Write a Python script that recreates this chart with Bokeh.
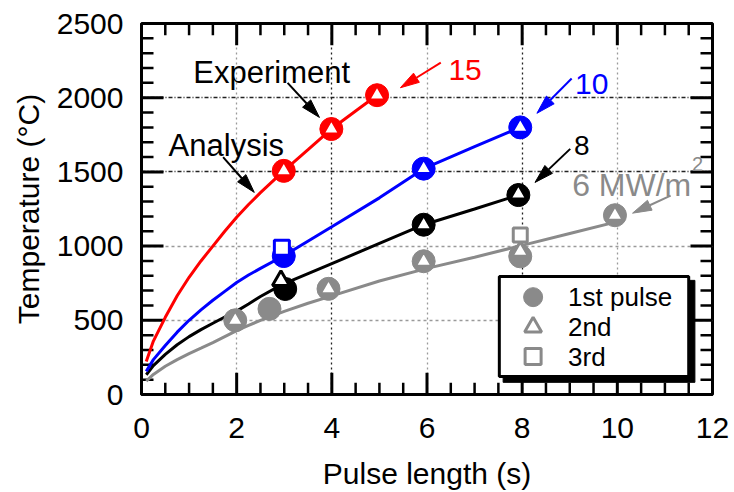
import math
from bokeh.plotting import figure
from bokeh.models import Range1d, SingleIntervalTicker, FixedTicker, Grid
from bokeh.core.properties import value
from bokeh.embed import file_html
from bokeh.resources import INLINE

FONT = "Liberation Sans"

# ---------------- data ----------------
# Analysis curves (pulse length s, temperature degC)
t_15 = [0.1, 0.25, 0.5, 0.75, 1.0, 1.25, 1.5, 1.75, 2.0, 2.25, 2.5, 2.99, 3.5, 3.99, 4.5, 4.95]
T_15 = [222, 360, 520, 665, 790, 900, 1000, 1100, 1195, 1280, 1360, 1507, 1650, 1789, 1910, 2017]
t_10 = [0.1, 0.25, 0.5, 0.75, 1.0, 1.25, 1.5, 1.75, 2.0, 2.25, 2.5, 2.99, 4.0, 5.0, 5.93, 7.0, 7.96]
T_10 = [156, 235, 330, 420, 500, 570, 635, 695, 755, 805, 850, 935, 1130, 1325, 1522, 1670, 1800]
t_8 = [0.1, 0.25, 0.5, 0.75, 1.0, 1.25, 1.5, 1.75, 2.0, 2.25, 2.5, 2.95, 4.0, 5.0, 5.93, 7.0, 7.92]
T_8 = [133, 195, 270, 335, 390, 437, 480, 522, 562, 610, 660, 740, 882, 1018, 1144, 1250, 1344]
t_6 = [0.1, 0.25, 0.5, 0.75, 1.0, 1.25, 1.5, 1.75, 2.0, 2.25, 2.5, 3.0, 3.5, 4.0, 5.0, 6.0, 7.0, 8.0, 9.0, 10.0]
T_6 = [90, 135, 190, 235, 275, 312, 350, 390, 430, 465, 500, 560, 615, 665, 765, 850, 925, 1005, 1085, 1165]

# Experiment: 1st pulse (circle), 2nd (triangle), 3rd (square)
r1_t = [2.99, 3.99, 4.95]; r1_T = [1507, 1789, 2017]
r2_t = [2.99, 3.99, 4.95]; r2_T = [1507, 1789, 2017]
b1_t = [2.99, 5.93, 7.96]; b1_T = [933, 1522, 1800]
b2_t = [5.93, 7.96]; b2_T = [1522, 1800]
b3_t = [2.95]; b3_T = [989]
k1_t = [3.02, 5.93, 7.92]; k1_T = [711, 1144, 1344]
k2_t = [2.93, 5.93, 7.92]; k2_T = [767, 1144, 1350]
g1_t = [1.97, 2.69, 3.93, 5.93, 7.96, 9.95]; g1_T = [500, 577, 712, 898, 931, 1208]
g2_t = [1.97, 3.93, 5.93, 7.96, 9.95]; g2_T = [500, 712, 898, 964, 1208]
g3_t = [7.96]; g3_T = [1075]

legend_labels = ["1st pulse", "2nd", "3rd"]
x_label = "Pulse length (s)"
y_label = "Temperature (\u00b0C)"

RED, BLUE, BLACK, GRAY = "#ff0000", "#0000ff", "#000000", "#8a8a8a"

# ---------------- figure ----------------
W, H = 734, 492
ML, MR, MT, MB = 141, 22, 23, 94
X_MAX, Y_MAX = 12.0, 2500.0
p = figure(width=W, height=H, output_backend="svg", toolbar_location=None,
           x_range=Range1d(0, X_MAX), y_range=Range1d(0, Y_MAX),
           min_border_left=ML, min_border_right=MR, min_border_top=MT, min_border_bottom=MB)
p.outline_line_color = BLACK
p.outline_line_width = 3
p.xgrid.visible = False
p.ygrid.visible = False

xt = SingleIntervalTicker(interval=2, num_minor_ticks=4)
yt = SingleIntervalTicker(interval=500, num_minor_ticks=5)


def style_axis(ax):
    ax.axis_line_width = 3
    ax.axis_line_color = BLACK
    ax.major_tick_in = 0
    ax.major_tick_out = 0
    ax.minor_tick_in = 0
    ax.minor_tick_out = 0
    ax.major_label_text_font = FONT
    ax.major_label_text_font_size = "30px"
    ax.major_label_text_color = BLACK
    ax.axis_label_text_font = FONT
    ax.axis_label_text_font_size = "30px"
    ax.axis_label_text_font_style = "normal"
    ax.axis_label_text_color = BLACK


bx = p.xaxis[0]
bx.ticker = xt
bx.axis_label = x_label
style_axis(bx)
bx.major_label_standoff = 23
bx.axis_label_standoff = 16

ly = p.yaxis[0]
ly.ticker = yt
ly.axis_label = y_label
style_axis(ly)
ly.major_label_standoff = 18
ly.axis_label_standoff = 9

# grid lines
for dim, ticks, color, dash in ((0, [2, 6, 10], "#9a9a9a", "2 3"),
                                (0, [4, 8], "#222222", "2 3"),
                                (1, [500, 1000], "#9a9a9a", "3 3"),
                                (1, [1500, 2000], "#222222", "4 2 1 2")):
    p.add_layout(Grid(dimension=dim, ticker=FixedTicker(ticks=ticks),
                      grid_line_color=color, grid_line_dash=dash, grid_line_width=1.3))

# ---------------- inward tick marks on all four frame sides ----------------
fw = W - ML - MR          # frame width in px
fh = H - MT - MB          # frame height in px
px_x = X_MAX / fw         # data units per px along x
px_y = Y_MAX / fh         # data units per px along y
MAJ, MIN = 22, 12
x_major = [2.0 * i for i in range(7)]
x_minor = [0.5 * i for i in range(25) if i % 4 != 0]
y_major = [500.0 * i for i in range(6)]
y_minor = [100.0 * i for i in range(26) if i % 5 != 0]
for ticks, ln, lw in ((x_major, MAJ, 3), (x_minor, MIN, 2.5)):
    n = len(ticks)
    p.segment(ticks, [0.0] * n, ticks, [ln * px_y] * n, line_color=BLACK, line_width=lw)
    p.segment(ticks, [Y_MAX] * n, ticks, [Y_MAX - ln * px_y] * n, line_color=BLACK, line_width=lw)
for ticks, ln, lw in ((y_major, MAJ, 3), (y_minor, MIN, 2.5)):
    n = len(ticks)
    p.segment([0.0] * n, ticks, [ln * px_x] * n, ticks, line_color=BLACK, line_width=lw)
    p.segment([X_MAX] * n, ticks, [X_MAX - ln * px_x] * n, ticks, line_color=BLACK, line_width=lw)

# analysis curves
for t, T, c in ((t_6, T_6, GRAY), (t_8, T_8, BLACK), (t_10, T_10, BLUE), (t_15, T_15, RED)):
    p.line(t, T, line_color=c, line_width=3)

# experiment points
for t, T, c in ((g1_t, g1_T, GRAY), (k1_t, k1_T, BLACK), (b1_t, b1_T, BLUE), (r1_t, r1_T, RED)):
    p.scatter(t, T, marker="circle", size=23, fill_color=c, line_color=c, line_width=1)
for t, T, c in ((g2_t, g2_T, GRAY), (k2_t, k2_T, BLACK), (b2_t, b2_T, BLUE), (r2_t, r2_T, RED)):
    p.scatter(t, T, marker="triangle", size=17, fill_color="white", line_color=c, line_width=3)
p.scatter(g3_t, g3_T, marker="square", size=14, fill_color="white", line_color=GRAY, line_width=3)
p.scatter(b3_t, b3_T, marker="square", size=15, fill_color="white", line_color=BLUE, line_width=3)

# ---------------- legend (drawn box with shadow) ----------------
LG_L, LG_R, LG_T, LG_B = 7.52, 11.5, 795, 122
SH_L, SH_R, SH_T, SH_B = 7.60, 11.63, 769, 82
p.quad(left=[SH_L], right=[SH_R], top=[SH_T], bottom=[SH_B], fill_color=BLACK, line_color=BLACK)
p.quad(left=[LG_L], right=[LG_R], top=[LG_T], bottom=[LG_B], fill_color="white",
       line_color=BLACK, line_width=3)
lg_x = 8.23
lg_rows = [656, 455, 256]
p.scatter([lg_x], [lg_rows[0]], marker="circle", size=19, fill_color=GRAY, line_color=GRAY)
p.scatter([lg_x], [lg_rows[1]], marker="triangle", size=17, fill_color="white", line_color=GRAY, line_width=3)
p.scatter([lg_x], [lg_rows[2]], marker="square", size=16, fill_color="white", line_color=GRAY, line_width=3)
p.text([8.965] * 3, lg_rows, text=legend_labels, text_font=value(FONT), text_font_size=value("26px"),
       text_color=BLACK, text_baseline="middle", text_align="left")

# ---------------- annotations ----------------
labels = [
    ("Experiment", 1.09, 2169, BLACK, "31px"),
    ("Analysis", 0.57, 1675, BLACK, "31px"),
    ("15", 6.45, 2189, RED, "30px"),
    ("10", 9.11, 2089, BLUE, "30px"),
    ("8", 9.09, 1675, BLACK, "28px"),
    ("6 MW/m", 9.05, 1409, GRAY, "32px"),
    ("2", 11.57, 1555, GRAY, "20px"),
]
for txt, x, y, c, fs in labels:
    p.text([x], [y], text=[txt], text_font=value(FONT), text_font_size=value(fs),
           text_color=c, text_baseline="alphabetic", text_align="left")

# pointer arrows: shaft as a segment, head as a filled triangle (sizes in px)
arrows = [
    (3.07, 2100, 3.74, 1867, BLACK),
    (1.715, 1600, 2.37, 1362, BLACK),
    (6.29, 2237, 5.44, 2067, RED),
    (9.04, 2129, 8.31, 1895, BLUE),
    (9.01, 1655, 8.27, 1429, BLACK),
    (11.12, 1340, 10.32, 1222, GRAY),
]
HEAD_L, HEAD_W = 19, 11
for xs, ys, xe, ye, c in arrows:
    dx, dy = (xe - xs) / px_x, (ye - ys) / px_y
    L = math.hypot(dx, dy)
    ux, uy = dx / L, dy / L
    nx, ny = -uy, ux
    bxp, byp = -HEAD_L * ux, -HEAD_L * uy            # base centre offset from tip (px)
    base_x, base_y = xe + bxp * px_x, ye + byp * px_y
    hx = [xe, xe + (bxp + HEAD_W / 2 * nx) * px_x, xe + (bxp - HEAD_W / 2 * nx) * px_x]
    hy = [ye, ye + (byp + HEAD_W / 2 * ny) * px_y, ye + (byp - HEAD_W / 2 * ny) * px_y]
    p.segment([xs], [ys], [base_x], [base_y], line_color=c, line_width=2)
    p.patch(hx, hy, fill_color=c, line_color=c, line_width=1)

open("out.html", "w").write(file_html(p, INLINE))
